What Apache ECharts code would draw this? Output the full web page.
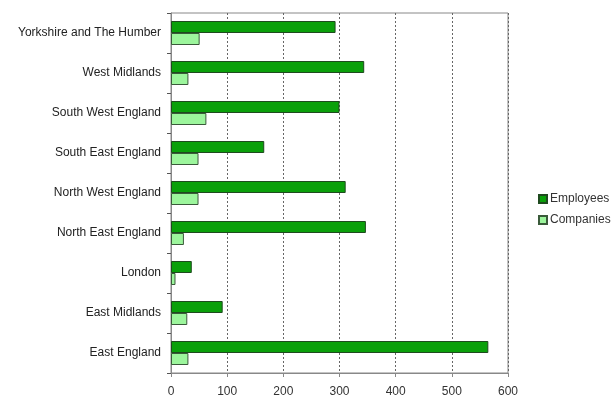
<!DOCTYPE html>
<html><head><meta charset="utf-8">
<script src="https://cdn.jsdelivr.net/npm/echarts@6/dist/echarts.min.js"></script>
<style>html,body{margin:0;padding:0;background:#fff}#c{width:614px;height:400px}</style>
</head><body><div id="c"></div>
<script>
var categories = ["East England","East Midlands","London","North East England","North West England","South East England","South West England","West Midlands","Yorkshire and The Humber"];
var employees = [565, 92, 37, 347, 311, 166, 300, 344, 293];
var companies = [31, 29, 8, 23, 49, 49, 63, 31, 51];
var xTicks = [0, 100, 200, 300, 400, 500, 600];

var chart = echarts.init(document.getElementById('c'), null, {renderer:'canvas'});
chart.setOption({
  animation:false,
  textStyle:{fontFamily:'Liberation Sans, Arial, sans-serif'},
  grid:{left:171, top:13, right:106, bottom:27, show:true, borderColor:'#888', borderWidth:1},
  legend:{
    orient:'vertical', left:533, top:188, itemWidth:8, itemHeight:8, itemGap:9,
    textStyle:{fontSize:12, color:'#333', fontFamily:'Liberation Sans, Arial, sans-serif', padding:[0,0,0,-2]},
    icon:'rect',
    data:['Employees','Companies']
  },
  xAxis:{
    type:'value', min:xTicks[0], max:xTicks[xTicks.length-1], interval:100,
    axisLine:{show:true, lineStyle:{color:'#888'}},
    axisTick:{show:true, length:4, lineStyle:{color:'#888'}},
    axisLabel:{color:'#333', fontSize:12, margin:13},
    splitLine:{show:true, lineStyle:{color:'#666', type:[2,2], width:1}}
  },
  yAxis:{
    type:'category', data:categories,
    axisLine:{show:true, lineStyle:{color:'#888'}},
    axisTick:{show:true, length:4, lineStyle:{color:'#555'}},
    axisLabel:{color:'#222', fontSize:12, margin:10},
    splitLine:{show:false}
  },
  series:[
    {name:'Employees', type:'bar', data:employees, barWidth:12, barGap:'0%',
     itemStyle:{color:'#0aa00a', borderColor:'#1f4a1f', borderWidth:1}},
    {name:'Companies', type:'bar', data:companies, barWidth:12, barGap:'0%',
     itemStyle:{color:'#9cf59c', borderColor:'#3a5a3a', borderWidth:1}}
  ]
});
</script></body></html>
